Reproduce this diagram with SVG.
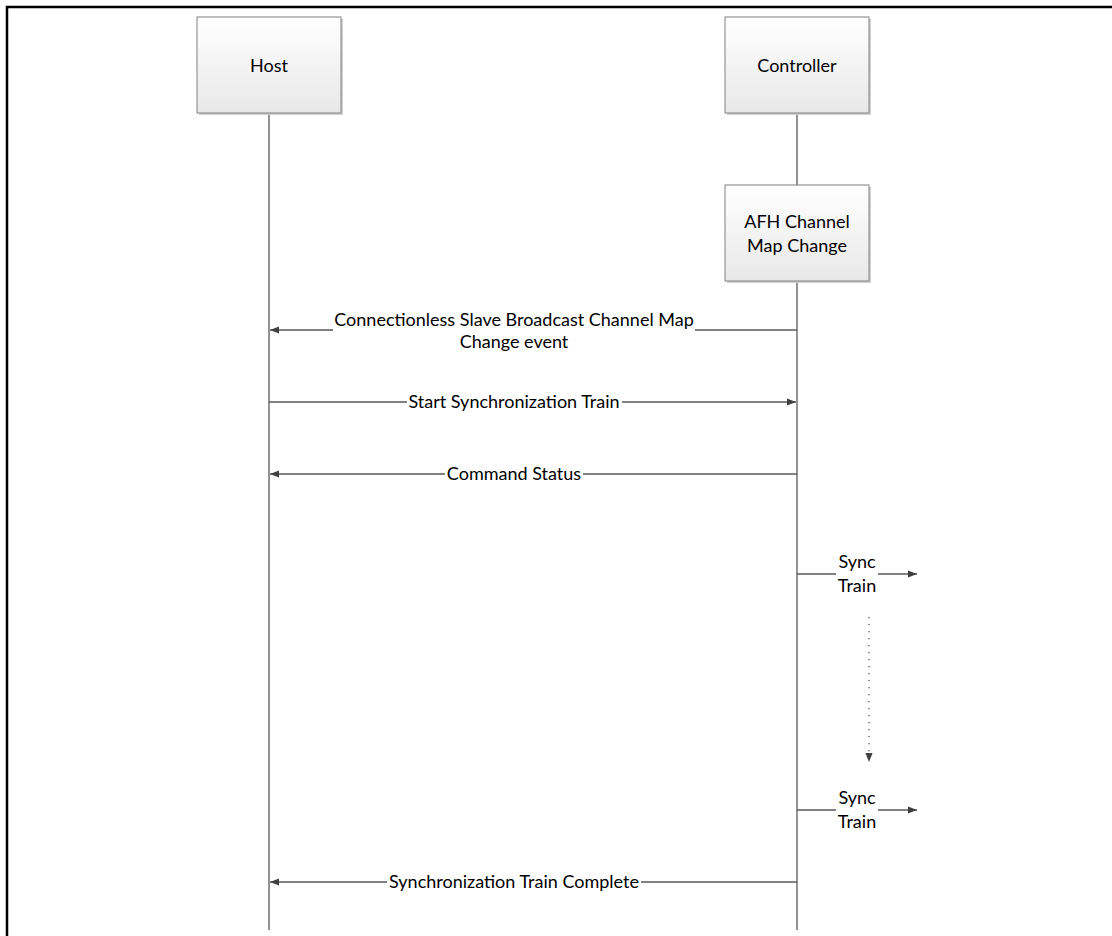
<svg xmlns="http://www.w3.org/2000/svg" width="1112" height="936" viewBox="0 0 1112 936">
<style>
.box{fill:url(#g);stroke:#808080;stroke-width:1}
.sh{fill:#d0d0d0}
.ln{stroke:#595959;stroke-width:1.3;fill:none}
.t{font-family:Lato,"Liberation Sans",sans-serif;font-size:18px;fill:#000;text-anchor:middle}
</style>
<defs>
<linearGradient id="g" x1="0" y1="0" x2="0" y2="1">
<stop offset="0" stop-color="#ffffff"/>
<stop offset="1" stop-color="#e8e8e8"/>
</linearGradient>
<marker id="ah" viewBox="0 0 10 10" refX="10" refY="5" markerWidth="9" markerHeight="9" markerUnits="userSpaceOnUse" orient="auto">
<path d="M0,1 L10,5 L0,9 Z" fill="#404040"/>
</marker>
</defs>
<rect width="1112" height="936" fill="#fff"/>
<path d="M7,936 V7 H1112" stroke="#000" stroke-width="2.5" fill="none"/>

<g id="connectors">
<line class="ln" x1="269" y1="113" x2="269" y2="930"/>
<line class="ln" x1="797" y1="113" x2="797" y2="185"/>
<line class="ln" x1="797" y1="281" x2="797" y2="930"/>
<line class="ln" x1="797" y1="330" x2="695" y2="330"/>
<line class="ln" x1="333" y1="330" x2="270" y2="330" marker-end="url(#ah)"/>
<line class="ln" x1="269" y1="402" x2="407" y2="402"/>
<line class="ln" x1="622" y1="402" x2="796" y2="402" marker-end="url(#ah)"/>
<line class="ln" x1="797" y1="474" x2="583" y2="474"/>
<line class="ln" x1="445" y1="474" x2="270" y2="474" marker-end="url(#ah)"/>
<line class="ln" x1="797" y1="574" x2="836" y2="574"/>
<line class="ln" x1="878" y1="574" x2="917" y2="574" marker-end="url(#ah)"/>
<line x1="869" y1="617" x2="869" y2="762" stroke="#595959" stroke-width="1.3" stroke-dasharray="1.3 5.7" marker-end="url(#ah)"/>
<line class="ln" x1="797" y1="810" x2="836" y2="810"/>
<line class="ln" x1="878" y1="810" x2="917" y2="810" marker-end="url(#ah)"/>
<line class="ln" x1="797" y1="882" x2="641" y2="882"/>
<line class="ln" x1="387" y1="882" x2="270" y2="882" marker-end="url(#ah)"/>
<text class="t" x="514" y="326">Connectionless Slave Broadcast Channel Map</text>
<text class="t" x="514" y="348">Change event</text>
<text class="t" x="514" y="408">Start Synchronization Train</text>
<text class="t" x="514" y="480">Command Status</text>
<text class="t" x="857" y="568">Sync</text>
<text class="t" x="857" y="592">Train</text>
<text class="t" x="857" y="804">Sync</text>
<text class="t" x="857" y="828">Train</text>
<text class="t" x="514" y="888">Synchronization Train Complete</text>
</g>

<g id="host">
<rect class="sh" x="199" y="19" width="144" height="96"/>
<rect class="box" x="197" y="17" width="144" height="96"/>
<text class="t" x="269" y="72">Host</text>
</g>
<g id="controller">
<rect class="sh" x="727" y="19" width="144" height="96"/>
<rect class="box" x="725" y="17" width="144" height="96"/>
<text class="t" x="797" y="72">Controller</text>
</g>
<g id="afh">
<rect class="sh" x="727" y="187" width="144" height="96"/>
<rect class="box" x="725" y="185" width="144" height="96"/>
<text class="t" x="797" y="228">AFH Channel</text>
<text class="t" x="797" y="252">Map Change</text>
</g>
</svg>
